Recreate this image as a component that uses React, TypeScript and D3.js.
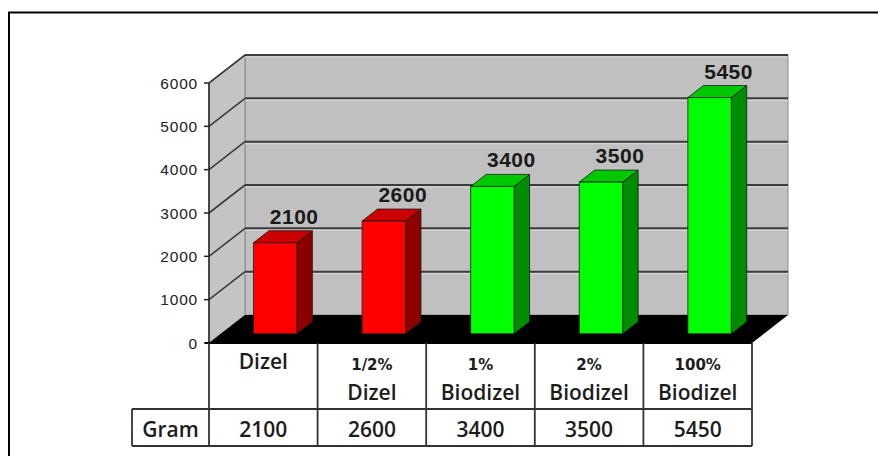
import React from "react";
import * as d3 from "d3";

// chart data
const categories = ["Dizel", "1/2% Dizel", "1% Biodizel", "2% Biodizel", "100% Biodizel"];
const headerLine1 = ["Dizel", "1/2%", "1%", "2%", "100%"];
const headerLine2 = ["", "Dizel", "Biodizel", "Biodizel", "Biodizel"];
const gramValues = [2100, 2600, 3400, 3500, 5450];
const barGroup = ["red", "red", "green", "green", "green"];
const yTicks = [0, 1000, 2000, 3000, 4000, 5000, 6000];
const rowLabel = "Gram";

const palette: Record<string, { front: string; side: string; top: string }> = {
  red: { front: "#ff0000", side: "#8c0000", top: "#cc0000" },
  green: { front: "#00ff00", side: "#008c00", top: "#00c800" },
};

const W = 878;
const H = 456;
const left = 209;
const right = 752;
const base = 343;
const top = 83;
const DX = 36;
const DY = 28;
const d0 = 0.33;
const d1 = 0.76;

const App = () => {
  const y = d3.scaleLinear().domain([0, 6000]).range([base, top]);
  const xb = d3.scaleBand().domain(categories).range([left, right]).paddingInner(0.6).paddingOuter(0.3);
  const xc = d3.scaleBand().domain(categories).range([left, right]).padding(0);

  const pts = (p: number[][]) => p.map(q => q.join(",")).join(" ");

  const backL = left + DX;
  const backR = right + DX;
  const gridTicks = yTicks.filter(t => t > 0);

  const tableFont = "'Open Sans', sans-serif";
  const rowTop = 409;
  const rowBot = 446;
  const gramLeft = 132;

  return (
    <svg width={W} height={H} style={{ position: "absolute", left: 0, top: 0, background: "#fff" }}
      fontFamily="'Liberation Sans', Arial, sans-serif">
      {/* outer frame */}
      <line x1={8} y1={12.5} x2={W} y2={12.5} stroke="#000" strokeWidth={2} />
      <line x1={9} y1={12} x2={9} y2={H} stroke="#000" strokeWidth={2} />

      {/* back wall */}
      <polygon points={pts([[backL, y(6000) - DY], [backR, y(6000) - DY], [backR, base - DY], [backL, base - DY]])}
        fill="#c0c0c0" stroke="#8a8a8a" strokeWidth={1} />
      {/* side wall */}
      <polygon points={pts([[left, y(6000)], [backL, y(6000) - DY], [backL, base - DY], [left, base]])}
        fill="#c4c4c4" stroke="#8a8a8a" strokeWidth={1} />

      {/* gridlines */}
      {gridTicks.map(t => (
        <g key={t}>
          <line x1={backL} x2={backR} y1={y(t) - DY} y2={y(t) - DY} stroke="#3c3c3c" strokeWidth={2} />
          <line x1={backL} x2={backR} y1={y(t) - DY + 2} y2={y(t) - DY + 2} stroke="#d8d8d8" strokeWidth={1} />
          <line x1={left} x2={backL} y1={y(t)} y2={y(t) - DY} stroke="#3c3c3c" strokeWidth={1.6} />
        </g>
      ))}

      {/* floor */}
      <polygon points={pts([[left, base], [right, base], [backR, base - DY], [backL, base - DY]])} fill="#000" />

      {/* bars */}
      {categories.map((c, i) => {
        const col = palette[barGroup[i]];
        const w = xb.bandwidth();
        const x0 = (xb(c) as number) + DX * d0;
        const yb = base - DY * d0;
        const yt = y(gramValues[i]) - DY * d0;
        const sx = DX * (d1 - d0);
        const sy = DY * (d1 - d0);
        return (
          <g key={c} stroke="#1a1a1a" strokeWidth={0.8} strokeLinejoin="round">
            <polygon points={pts([[x0 + w, yt], [x0 + w + sx, yt - sy], [x0 + w + sx, yb - sy], [x0 + w, yb]])} fill={col.side} />
            <polygon points={pts([[x0, yt], [x0 + sx, yt - sy], [x0 + w + sx, yt - sy], [x0 + w, yt]])} fill={col.top} />
            <rect x={x0} y={yt} width={w} height={yb - yt} fill={col.front} />
          </g>
        );
      })}

      {/* data labels */}
      {categories.map((c, i) => {
        const w = xb.bandwidth();
        const cx = (xb(c) as number) + w / 2 + DX * d0 + 19;
        const yBackTop = y(gramValues[i]) - DY * d1;
        return (
          <text key={c} x={cx} y={yBackTop - 7} textAnchor="middle" fontSize={21} fontWeight="bold"
            fill="#1a1a1a" letterSpacing={0.5}>
            {gramValues[i]}
          </text>
        );
      })}

      {/* y axis */}
      <line x1={left} x2={left} y1={top} y2={base} stroke="#222" strokeWidth={1.5} />
      {yTicks.map(t => (
        <g key={t}>
          <line x1={left - 5} x2={left} y1={y(t)} y2={y(t)} stroke="#222" strokeWidth={1.5} />
          <text x={198} y={y(t)} dy="0.36em" textAnchor="end" fontSize={15.5} fill="#222" letterSpacing={0.8}>
            {t}
          </text>
        </g>
      ))}

      {/* data table */}
      <g stroke="#333" strokeWidth={1.8} fill="none">
        <line x1={left - 4} x2={right} y1={base} y2={base} stroke="#000" strokeWidth={2} />
        <line x1={gramLeft} x2={right} y1={rowTop} y2={rowTop} />
        <line x1={gramLeft} x2={right} y1={rowBot} y2={rowBot} />
        <line x1={gramLeft} x2={gramLeft} y1={rowTop} y2={rowBot} />
        {categories.map(c => (
          <line key={c} x1={xc(c)} x2={xc(c)} y1={base} y2={rowBot} />
        ))}
        <line x1={right} x2={right} y1={base} y2={rowBot} />
      </g>
      {categories.map((c, i) => {
        const cx = (xc(c) as number) + xc.bandwidth() / 2;
        const two = headerLine2[i] !== "";
        return (
          <g key={c} fill="#1c1c1c" textAnchor="middle">
            {two ? (
              <text x={cx} y={370} fontSize={15} fontWeight="bold" fontFamily="'DejaVu Sans', sans-serif">
                {headerLine1[i]}
              </text>
            ) : (
              <text x={cx} y={369} fontSize={21} fontWeight={600} fontFamily={tableFont}>
                {headerLine1[i]}
              </text>
            )}
            {two && (
              <text x={cx} y={400} fontSize={21} fontWeight={600} fontFamily={tableFont}>
                {headerLine2[i]}
              </text>
            )}
            <text x={cx} y={437} fontSize={21} fontWeight={600} fontFamily={tableFont}>
              {gramValues[i]}
            </text>
          </g>
        );
      })}
      <text x={(gramLeft + left) / 2} y={437} textAnchor="middle" fontSize={21} fontWeight={600}
        fontFamily={tableFont} fill="#1c1c1c">
        {rowLabel}
      </text>
    </svg>
  );
};

export default App;
